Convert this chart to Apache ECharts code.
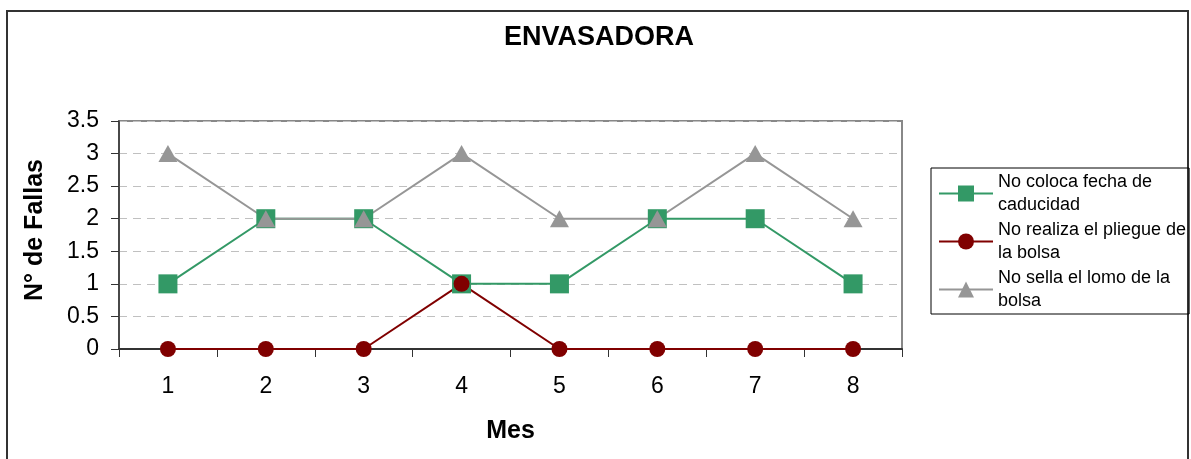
<!DOCTYPE html>
<html>
<head>
<meta charset="utf-8">
<script src="https://cdn.jsdelivr.net/npm/echarts@6/dist/echarts.min.js"></script>
<style>
html,body{margin:0;padding:0;background:#fff;}
#chart{width:1191px;height:459px;}
</style>
</head>
<body>
<div id="chart"></div>
<script>
const months = ['1','2','3','4','5','6','7','8'];
const seriesNames = ['No coloca fecha de caducidad','No realiza el pliegue de la bolsa','No sella el lomo de la bolsa'];
const legendLabels = ['No coloca fecha de\ncaducidad','No realiza el pliegue de\nla bolsa','No sella el lomo de la\nbolsa'];
const fechaCaducidad = [1,2,2,1,1,2,2,1];
const pliegueBolsa = [0,0,0,1,0,0,0,0];
const selloLomo = [3,2,2,3,2,2,3,2];
const yTicks = ['0','0.5','1','1.5','2','2.5','3','3.5'];

const FONT = 'Liberation Sans, Arial, sans-serif';
const chart = echarts.init(document.getElementById('chart'));
chart.setOption({
  animation:false,
  backgroundColor:'#fff',
  textStyle:{fontFamily:FONT},
  title:{
    text:'ENVASADORA',
    left:504, top:24, padding:0,
    textStyle:{fontSize:27,fontWeight:'bold',color:'#000',fontFamily:FONT}
  },
  graphic:[{
    type:'rect', silent:true,
    shape:{x:7,y:11,width:1181,height:460},
    style:{fill:'none',stroke:'#333',lineWidth:2}
  }],
  legend:{
    orient:'vertical',
    left:931, top:168,
    padding:[5,3,4,7],
    itemGap:7,
    itemWidth:54, itemHeight:20,
    borderColor:'#000', borderWidth:1,
    data:seriesNames,
    formatter:function(n){return legendLabels[seriesNames.indexOf(n)];},
    textStyle:{fontSize:18,color:'#000',lineHeight:23,padding:[0,0,-23,0],fontFamily:FONT}
  },
  grid:{left:119,right:289,top:121,bottom:110,show:true,borderColor:'#888',borderWidth:2,backgroundColor:'transparent'},
  xAxis:{
    type:'category', data:months, boundaryGap:true,
    name:'Mes', nameLocation:'middle', nameGap:70,
    nameTextStyle:{fontSize:25,fontWeight:'bold',color:'#000',fontFamily:FONT},
    axisLine:{lineStyle:{color:'#333',width:2}},
    axisTick:{show:true,alignWithLabel:false,length:8,lineStyle:{color:'#333',width:1}},
    axisLabel:{fontSize:23,color:'#000',margin:26,fontFamily:FONT},
    splitLine:{show:false}
  },
  yAxis:{
    type:'value', min:0, max:3.5, interval:0.5,
    name:'N° de Fallas', nameLocation:'middle', nameGap:71, nameRotate:90,
    nameTextStyle:{fontSize:25,fontWeight:'bold',color:'#000',fontFamily:FONT,padding:[0,0,0,10]},
    axisLine:{show:true,lineStyle:{color:'#333',width:1.5}},
    axisTick:{show:true,length:8,lineStyle:{color:'#333',width:1}},
    axisLabel:{fontSize:23,color:'#000',margin:20,fontFamily:FONT,
      formatter:function(v){const i=Math.round(v*2);return yTicks[i];}},
    splitLine:{show:true,lineStyle:{color:'#c0c0c0',type:[8,6],width:1}}
  },
  series:[
    {name:seriesNames[0],type:'line',data:fechaCaducidad,symbol:'rect',symbolSize:19,
     itemStyle:{color:'#339966'},lineStyle:{color:'#339966',width:2}},
    {name:seriesNames[1],type:'line',data:pliegueBolsa,symbol:'circle',symbolSize:16,
     itemStyle:{color:'#800000'},lineStyle:{color:'#800000',width:2}},
    {name:seriesNames[2],type:'line',data:selloLomo,symbol:'triangle',symbolSize:[19,17],
     itemStyle:{color:'#969696'},lineStyle:{color:'#969696',width:2}}
  ]
});
</script>
</body>
</html>
